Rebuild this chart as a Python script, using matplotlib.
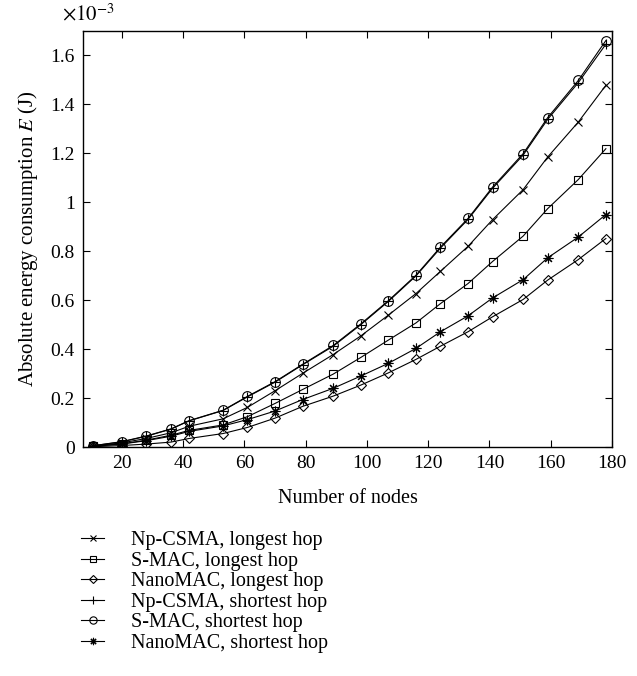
import matplotlib
matplotlib.use("Agg")
import matplotlib.pyplot as plt
from matplotlib.ticker import FuncFormatter, FixedLocator

plt.rcParams['font.family'] = ['Liberation Serif', 'DejaVu Serif']
plt.rcParams['mathtext.fontset'] = 'stix'

nodes = [10.5, 20, 28, 36, 42, 53, 61, 70, 79, 89, 98, 107, 116, 124, 133, 141, 151, 159, 169, 178]

# energy in units of 1e-3 J
np_csma_long = [0.004, 0.017, 0.035, 0.058, 0.085, 0.115, 0.162, 0.230, 0.301, 0.378, 0.454, 0.539, 0.627, 0.718, 0.820, 0.929, 1.052, 1.185, 1.328, 1.478]
smac_long = [0.003, 0.013, 0.028, 0.048, 0.068, 0.090, 0.124, 0.178, 0.235, 0.298, 0.366, 0.437, 0.507, 0.586, 0.668, 0.758, 0.862, 0.974, 1.093, 1.219]
nanomac_long = [0.001, 0.006, 0.012, 0.020, 0.035, 0.055, 0.080, 0.118, 0.166, 0.208, 0.253, 0.303, 0.358, 0.412, 0.471, 0.532, 0.603, 0.682, 0.766, 0.852]
np_csma_short = [0.005, 0.021, 0.044, 0.073, 0.107, 0.149, 0.205, 0.265, 0.336, 0.412, 0.500, 0.595, 0.699, 0.813, 0.930, 1.057, 1.193, 1.339, 1.489, 1.646]
smac_short = [0.005, 0.022, 0.045, 0.074, 0.108, 0.150, 0.207, 0.267, 0.338, 0.415, 0.503, 0.598, 0.702, 0.817, 0.934, 1.062, 1.199, 1.346, 1.498, 1.661]
nanomac_short = [0.003, 0.012, 0.026, 0.044, 0.064, 0.086, 0.112, 0.147, 0.194, 0.240, 0.290, 0.342, 0.403, 0.471, 0.536, 0.609, 0.684, 0.773, 0.858, 0.950]

labels = ["Np-CSMA, longest hop", "S-MAC, longest hop", "NanoMAC, longest hop",
          "Np-CSMA, shortest hop", "S-MAC, shortest hop", "NanoMAC, shortest hop"]
xticks = [20, 40, 60, 80, 100, 120, 140, 160, 180]
yticks = [0, 0.2, 0.4, 0.6, 0.8, 1.0, 1.2, 1.4, 1.6]

series = [np_csma_long, smac_long, nanomac_long, np_csma_short, smac_short, nanomac_short]
markers = ['x', 's', 'D', '+', 'o', (8, 2, 0)]
msizes = [5.5, 5.5, 5.0, 7, 7, 7]

fig = plt.figure(figsize=(6.37, 6.76), dpi=100)
ax = fig.add_axes([83/637, 1-447/676, (612-83)/637, (447-31)/676])

for ys, m, ms, lab in zip(series, markers, msizes, labels):
    ax.plot(nodes, ys, color='black', linewidth=0.8, marker=m, markersize=ms,
            markerfacecolor='none', markeredgecolor='black', markeredgewidth=0.8, label=lab)

ax.set_xlim(7.3, 180)
ax.set_ylim(0, 1.7)
ax.xaxis.set_major_locator(FixedLocator(xticks))
ax.yaxis.set_major_locator(FixedLocator(yticks))
ax.yaxis.set_major_formatter(FuncFormatter(lambda v, p: '%g' % round(v, 3)))
ax.tick_params(direction='in', top=True, right=True, labelsize=14, length=5, width=0.8, pad=6)
for s in ax.spines.values():
    s.set_linewidth(1.0)

ax.set_xlabel("Number of nodes", fontsize=14.5, labelpad=12)
ax.set_ylabel(r"Absolute energy consumption $\mathit{E}$ (J)", fontsize=15, labelpad=7)
fig.text(62/637, 1-15/676, r"$\times10^{-3}$", fontsize=15, va='center', ha='left')

leg = fig.legend(loc='upper left', bbox_to_anchor=(81/637, 1-531/676), frameon=False,
                 fontsize=14.5, handlelength=1.15, handletextpad=1.35, labelspacing=0.07,
                 borderpad=0, borderaxespad=0, markerscale=0.75)

fig.savefig("out.png", dpi=100)
